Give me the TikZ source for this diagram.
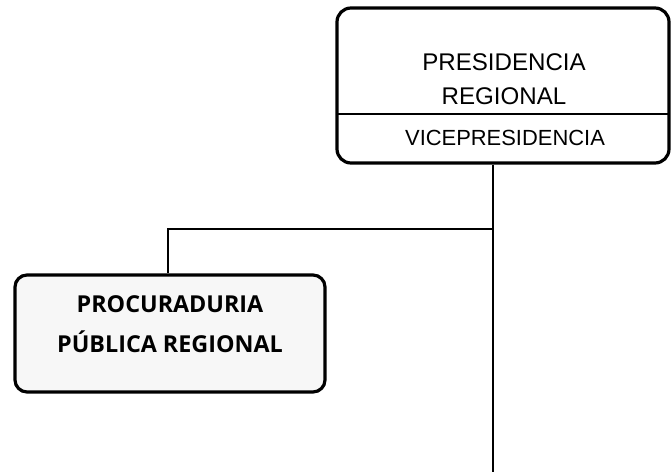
\documentclass[tikz,border=0pt]{standalone}
\usepackage{fontspec}
\setmainfont{Liberation Sans}
\newfontfamily\procfont{Open Sans}
\begin{document}
\begin{tikzpicture}[x=1bp,y=-1bp,
  orgbox/.style={draw=black, line width=3.2bp, rounded corners=14bp, inner sep=0pt},
  conn/.style={draw=black, line width=2.8bp},
  toptext/.style={font=\fontsize{24.2}{26}\selectfont, inner sep=0pt},
  vicetext/.style={font=\fontsize{22}{24}\selectfont, inner sep=0pt},
  proctext/.style={font=\procfont\bfseries\fontsize{23.4}{37}\selectfont, align=center, inner sep=0pt}]
\useasboundingbox (0,0) rectangle (671,472);
% top box
\node[orgbox, minimum width=332bp, minimum height=155bp] (pres) at (503,85.5) {};
\coordinate (divL) at (337,114);
\coordinate (divR) at (669,114);
\draw[line width=2.4bp] (divL) -- (divR);
\node[toptext] (t1) at (504,62) {PRESIDENCIA};
\node[toptext] (t2) at (504,96) {REGIONAL};
\node[vicetext] (t3) at (505,138) {VICEPRESIDENCIA};
% procuraduria box
\node[orgbox, rounded corners=12bp, fill=gray!6, minimum width=310bp, minimum height=117bp] (proc) at (170,333.5) {};
\node[proctext] (p1) at (170,304) {PROCURADURIA};
\node[proctext] (p2) at (170,342) {PÚBLICA REGIONAL};
% connectors
\coordinate (j) at (493,229);
\coordinate (bot) at (493,472);
\coordinate (pj) at (168,229);
\draw[conn] (pres.south -| j) -- (bot);
\draw[conn] (j) -- (pj) -- (pj |- proc.north);
\end{tikzpicture}
\end{document}
